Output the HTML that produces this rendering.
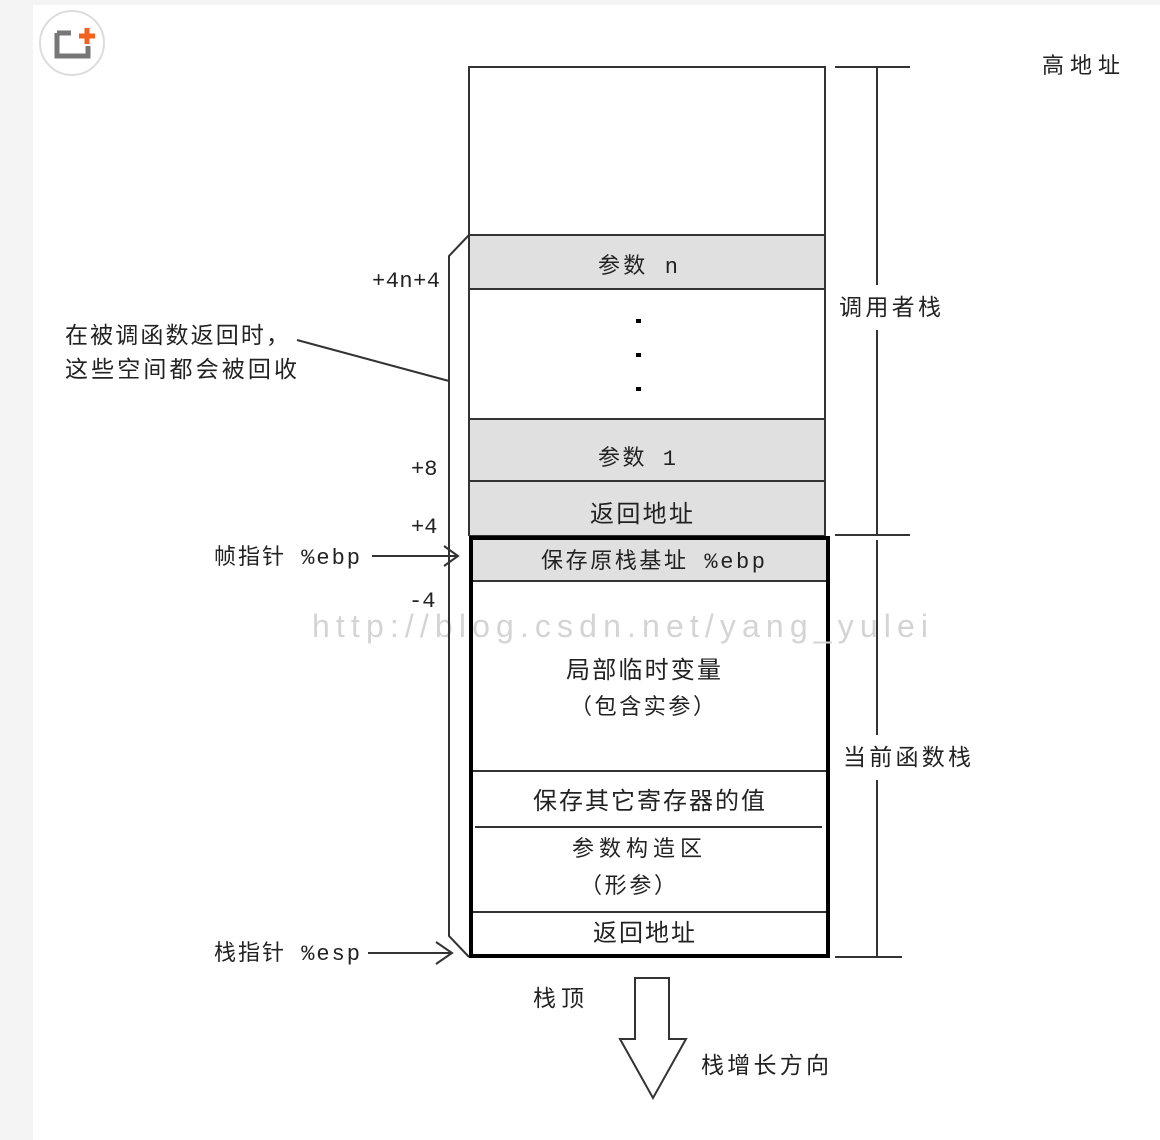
<!DOCTYPE html>
<html><head><meta charset="utf-8"><style>
html,body{margin:0;padding:0;width:1160px;height:1140px;overflow:hidden;background:#fff}
svg{display:block}
text{font-family:"Liberation Sans","Noto Sans CJK SC",sans-serif;fill:#222}
.m{font-family:"Liberation Mono","Noto Sans CJK SC",monospace}
</style></head><body>
<svg width="1160" height="1140" viewBox="0 0 1160 1140">
<rect x="0" y="0" width="1160" height="5" fill="#f4f4f4"/>
<rect x="0" y="0" width="33" height="1140" fill="#f4f4f4"/>
<circle cx="72" cy="43" r="32" fill="#fff" stroke="#ddd" stroke-width="2"/>
<path d="M57 33 H71 M57 33 V56 H88 V46" fill="none" stroke="#777" stroke-width="5"/>
<path d="M87 28 V44 M79 36 H95" stroke="#f4601e" stroke-width="5"/>
<text x="1042" y="73" font-size="22" textLength="78">高地址</text>
<g fill="none" stroke="#333" stroke-width="2">
<rect x="469" y="67" width="356" height="468"/>
</g>
<rect x="470" y="236" width="354" height="53" fill="#e0e0e0"/>
<rect x="470" y="420" width="354" height="61" fill="#e0e0e0"/>
<rect x="470" y="482" width="354" height="53" fill="#e0e0e0"/>
<rect x="472" y="539" width="354" height="42" fill="#e0e0e0"/>
<g stroke="#333" stroke-width="2">
<line x1="469" y1="235" x2="825" y2="235"/>
<line x1="469" y1="289" x2="825" y2="289"/>
<line x1="469" y1="419" x2="825" y2="419"/>
<line x1="469" y1="481" x2="825" y2="481"/>
<line x1="471" y1="581" x2="827" y2="581"/>
<line x1="471" y1="771" x2="827" y2="771"/>
<line x1="475" y1="827" x2="822" y2="827"/>
<line x1="471" y1="912" x2="827" y2="912"/>
</g>
<rect x="471" y="538" width="357" height="418" fill="none" stroke="#000" stroke-width="4"/>
<g fill="#000"><rect x="636" y="319" width="5" height="4"/><rect x="636" y="353" width="5" height="4"/><rect x="636" y="387" width="5" height="4"/></g>
<text x="598" y="273" font-size="22" class="m" textLength="80">参数 n</text>
<text x="598" y="465" font-size="22" class="m" textLength="78">参数 1</text>
<text x="590" y="522" font-size="24" textLength="103">返回地址</text>
<text x="541" y="568" font-size="22" class="m" textLength="224">保存原栈基址 %ebp</text>
<text x="566" y="678" font-size="24" textLength="155">局部临时变量</text>
<text x="570" y="714" font-size="22" textLength="145">（包含实参）</text>
<text x="533" y="809" font-size="24" textLength="232">保存其它寄存器的值</text>
<text x="572" y="856" font-size="22" textLength="130">参数构造区</text>
<text x="580" y="893" font-size="22" textLength="96">（形参）</text>
<text x="593" y="941" font-size="24" textLength="102">返回地址</text>
<text x="312" y="637" font-size="32" style="fill:#d4d4d4" font-family="Liberation Serif,serif" textLength="616">http://blog.csdn.net/yang_yulei</text>
<g stroke="#333" stroke-width="2" fill="none">
<path d="M469 235 L449 256 V936 L469 957"/>
<line x1="297" y1="340" x2="449" y2="381"/>
<line x1="835" y1="67" x2="910" y2="67"/>
<line x1="877" y1="67" x2="877" y2="285"/>
<line x1="877" y1="330" x2="877" y2="535"/>
<line x1="835" y1="535" x2="910" y2="535"/>
<line x1="877" y1="540" x2="877" y2="735"/>
<line x1="877" y1="780" x2="877" y2="957"/>
<line x1="835" y1="957" x2="902" y2="957"/>
<line x1="372" y1="556" x2="458" y2="556"/>
<path d="M444 546 L458 556 L444 566"/>
<line x1="368" y1="953" x2="452" y2="953"/>
<path d="M436 942 L452 953 L436 964"/>
<path d="M635 978 H669 V1039 H686 L653 1098 L620 1039 H635 Z"/>
</g>
<text x="372" y="287" font-size="22" class="m" textLength="68">+4n+4</text>
<text x="411" y="475" font-size="22" class="m">+8</text>
<text x="411" y="533" font-size="22" class="m">+4</text>
<text x="409" y="607" font-size="22" class="m">-4</text>
<text x="65" y="343" font-size="23" textLength="224">在被调函数返回时，</text>
<text x="65" y="377" font-size="23" textLength="232">这些空间都会被回收</text>
<text x="839" y="315" font-size="23" textLength="102">调用者栈</text>
<text x="843" y="765" font-size="23" textLength="128">当前函数栈</text>
<text x="214" y="564" font-size="22" class="m" textLength="146">帧指针 %ebp</text>
<text x="214" y="960" font-size="22" class="m" textLength="146">栈指针 %esp</text>
<text x="533" y="1006" font-size="23" textLength="51">栈顶</text>
<text x="701" y="1073" font-size="23" textLength="128">栈增长方向</text>
</svg>
</body></html>
